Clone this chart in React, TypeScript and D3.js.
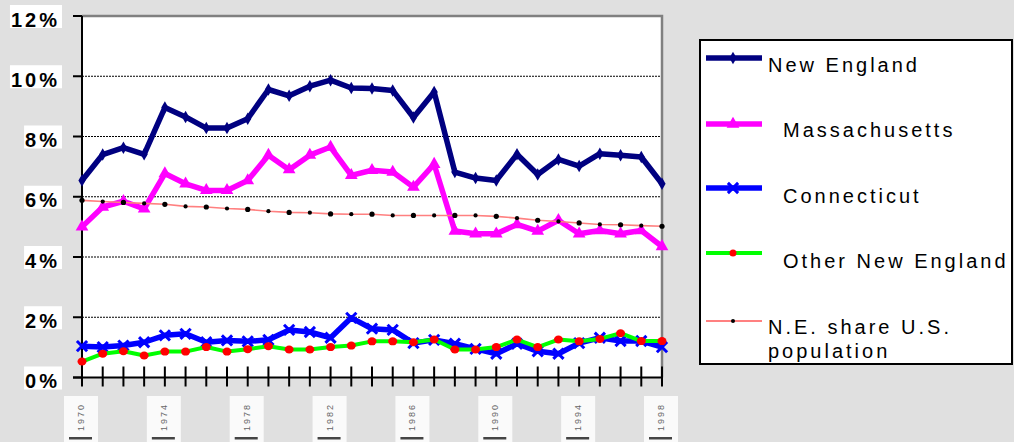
import React, { useEffect, useRef } from "react";
import * as d3 from "d3";

// categories (x axis tick labels are unreadable in the source, years assumed)
const years = [
	"1970", "1971", "1972", "1973", "1974", "1975", "1976", "1977", "1978", "1979",
	"1980", "1981", "1982", "1983", "1984", "1985", "1986", "1987", "1988", "1989",
	"1990", "1991", "1992", "1993", "1994", "1995", "1996", "1997", "1998",
];
const labelYears = ["1970", "1974", "1978", "1982", "1986", "1990", "1994", "1998"];
const yTicks = [0, 2, 4, 6, 8, 10, 12];

// series values, percent
const newEngland = [
	6.54, 7.4, 7.63, 7.41, 8.96, 8.65, 8.28, 8.28, 8.59, 9.56, 9.35, 9.67, 9.87, 9.61, 9.59,
	9.53, 8.63, 9.48, 6.82, 6.62, 6.54, 7.41, 6.74, 7.24, 7.02, 7.43, 7.38, 7.32, 6.43,
];
const massachusetts = [
	5.0, 5.66, 5.85, 5.6, 6.77, 6.43, 6.21, 6.21, 6.54, 7.38, 6.9, 7.38, 7.65, 6.71, 6.88,
	6.82, 6.32, 7.08, 4.86, 4.77, 4.77, 5.08, 4.86, 5.22, 4.77, 4.88, 4.77, 4.88, 4.35,
];
const connecticut = [
	1.04, 1.01, 1.06, 1.17, 1.4, 1.45, 1.17, 1.23, 1.2, 1.25, 1.58, 1.51, 1.32, 1.98, 1.62,
	1.58, 1.14, 1.25, 1.12, 0.95, 0.79, 1.12, 0.87, 0.79, 1.14, 1.32, 1.21, 1.21, 1.01,
];
const otherNewEngland = [
	0.53, 0.79, 0.87, 0.73, 0.86, 0.86, 1.01, 0.86, 0.94, 1.04, 0.93, 0.93, 1.01, 1.06, 1.2,
	1.2, 1.17, 1.26, 0.93, 0.93, 1.01, 1.26, 1.01, 1.26, 1.2, 1.28, 1.47, 1.21, 1.21,
];
const popShare = [
	5.88, 5.84, 5.81, 5.78, 5.75, 5.68, 5.66, 5.61, 5.58, 5.52, 5.48, 5.47, 5.43, 5.42, 5.42,
	5.38, 5.38, 5.38, 5.38, 5.38, 5.35, 5.29, 5.22, 5.18, 5.13, 5.08, 5.07, 5.04, 5.02,
];

type Series = {
	name: string[];
	values: number[];
	line: string;
	width: number;
	marker: string;
	markerColor: string;
	textX: number;
};

const series: Series[] = [
	{ name: ["New England"], values: newEngland, line: "#000080", width: 5.5, marker: "diamond", markerColor: "#000080", textX: 768 },
	{ name: ["Massachusetts"], values: massachusetts, line: "#ff00ff", width: 5.5, marker: "triangle", markerColor: "#ff00ff", textX: 783 },
	{ name: ["Connecticut"], values: connecticut, line: "#0000ff", width: 5.5, marker: "x", markerColor: "#0000ff", textX: 783 },
	{ name: ["Other New England"], values: otherNewEngland, line: "#00ff00", width: 4, marker: "circle", markerColor: "#ff0000", textX: 783 },
	{ name: ["N.E. share U.S.", "population"], values: popShare, line: "#ff8080", width: 1.6, marker: "dot", markerColor: "#000000", textX: 768 },
];

const FONT = "'Liberation Sans', Arial, sans-serif";

export default function App() {
	const svgRef = useRef<SVGSVGElement | null>(null);

	useEffect(() => {
		document.body.style.margin = "0";
		if (!svgRef.current) return;
		const width = 1014;
		const height = 442;
		const plot = { left: 82, right: 662, top: 16, bottom: 377.5 };

		const svg = d3.select(svgRef.current);
		svg.selectAll("*").remove();

		svg.append("rect").attr("width", width).attr("height", height).attr("fill", "#e0e0e0");

		const x = d3.scalePoint<string>().domain(years).range([plot.left, plot.right]);
		const y = d3.scaleLinear().domain([0, 12]).range([plot.bottom, plot.top]);

		// plot area
		svg.append("rect")
			.attr("x", plot.left)
			.attr("y", plot.top)
			.attr("width", plot.right - plot.left)
			.attr("height", plot.bottom - plot.top)
			.attr("fill", "#fff");

		// gridlines
		svg.append("g")
			.selectAll("line")
			.data(yTicks.filter((t) => t > 0 && t < 12))
			.join("line")
			.attr("x1", plot.left)
			.attr("x2", plot.right)
			.attr("y1", (d) => y(d))
			.attr("y2", (d) => y(d))
			.attr("stroke", "#000")
			.attr("stroke-width", 1)
			.attr("stroke-dasharray", "2,1");

		// gray frame top/right
		svg.append("path")
			.attr("d", `M${plot.left},${plot.top}H${plot.right}V${plot.bottom}`)
			.attr("fill", "none")
			.attr("stroke", "#808080")
			.attr("stroke-width", 2.5);

		// y axis
		const yAxis = svg.append("g");
		yAxis.append("line")
			.attr("x1", plot.left).attr("x2", plot.left)
			.attr("y1", plot.top).attr("y2", plot.bottom + 1)
			.attr("stroke", "#000").attr("stroke-width", 2);
		const yTick = yAxis.selectAll("g.tick").data(yTicks).join("g").attr("class", "tick");
		yTick.append("line")
			.attr("x1", plot.left - 9).attr("x2", plot.left)
			.attr("y1", (d) => y(d)).attr("y2", (d) => y(d))
			.attr("stroke", "#000").attr("stroke-width", 2);
		const yBg = yTick.append("rect").attr("fill", "#fff");
		const yText = yTick.append("text")
			.attr("x", 60)
			.attr("y", (d) => y(d) + 10.5)
			.attr("text-anchor", "end")
			.attr("font-family", FONT)
			.attr("font-weight", "bold")
			.attr("font-size", 20)
			.attr("letter-spacing", 3)
			.attr("fill", "#000")
			.text((d) => `${d}%`);
		yText.each(function (d, i) {
			const bb = (this as SVGTextElement).getBBox();
			d3.select(yBg.nodes()[i])
				.attr("x", bb.x - 1)
				.attr("y", y(d) - 11)
				.attr("width", 62 - (bb.x - 1))
				.attr("height", 23);
		});

		// x axis
		const xAxis = svg.append("g");
		xAxis.selectAll("line.tick")
			.data(years)
			.join("line")
			.attr("class", "tick")
			.attr("x1", (d) => x(d)!).attr("x2", (d) => x(d)!)
			.attr("y1", plot.bottom - 11).attr("y2", plot.bottom + 9)
			.attr("stroke", "#000").attr("stroke-width", 2);
		xAxis.append("line")
			.attr("x1", plot.left - 9).attr("x2", plot.right + 1)
			.attr("y1", plot.bottom).attr("y2", plot.bottom)
			.attr("stroke", "#000").attr("stroke-width", 2);

		// x labels: tiny rotated images in the source, drawn as faint boxes
		const xl = xAxis.selectAll("g.xl").data(labelYears).join("g").attr("class", "xl")
			.attr("transform", (d) => `translate(${x(d)! - 1},0)`);
		xl.append("rect").attr("x", -17).attr("y", 396).attr("width", 34).attr("height", 50).attr("fill", "#fafafa");
		xl.append("text")
			.attr("transform", "translate(3,417) rotate(-90)")
			.attr("text-anchor", "middle")
			.attr("font-family", FONT)
			.attr("font-size", 9)
			.attr("letter-spacing", 2)
			.attr("fill", "#666")
			.text((d) => d);
		xl.append("rect").attr("x", -12).attr("y", 437).attr("width", 23).attr("height", 2.5).attr("fill", "#444");

		// markers
		const symbolPath = (m: string) => {
			switch (m) {
				case "diamond":
					return d3.symbol().type(d3.symbolDiamond).size(45)();
				case "triangle":
					return d3.symbol().type(d3.symbolTriangle).size(70)();
				case "x":
					return d3.symbol().type(d3.symbolX).size(70)();
				default:
					return "";
			}
		};

		const line = d3.line<number>()
			.x((_, i) => x(years[i])!)
			.y((d) => y(d));

		series.forEach((s) => {
			const g = svg.append("g");
			g.append("path")
				.datum(s.values)
				.attr("d", line)
				.attr("fill", "none")
				.attr("stroke", s.line)
				.attr("stroke-width", s.width)
				.attr("stroke-linejoin", "round");
			const pts = g.selectAll("g.pt").data(s.values).join("g").attr("class", "pt")
				.attr("transform", (d, i) => `translate(${x(years[i])},${y(d)})`);
			if (s.marker === "circle") {
				pts.append("ellipse").attr("rx", 4.5).attr("ry", 4).attr("fill", s.markerColor);
			} else if (s.marker === "dot") {
				pts.append("circle").attr("r", (_, i) => (i % 2 === 0 ? 2.6 : 2.1)).attr("fill", s.markerColor);
			} else if (s.marker === "x") {
				pts.append("path").attr("d", symbolPath("x")).attr("fill", "none")
					.attr("stroke", s.markerColor).attr("stroke-width", 3);
			} else {
				pts.append("path").attr("d", symbolPath(s.marker)).attr("fill", s.markerColor);
			}
		});

		// legend
		const legend = svg.append("g");
		legend.append("rect")
			.attr("x", 700).attr("y", 40).attr("width", 312).attr("height", 324)
			.attr("fill", "#fff").attr("stroke", "#000").attr("stroke-width", 2);
		const rowY = [58, 124, 188, 253, 321];
		const baseY = [72, 137, 203, 268, 334];
		series.forEach((s, i) => {
			const ly = rowY[i];
			legend.append("line")
				.attr("x1", 706).attr("x2", 762).attr("y1", ly).attr("y2", ly)
				.attr("stroke", s.line).attr("stroke-width", Math.max(2, s.width));
			const mg = legend.append("g").attr("transform", `translate(733,${ly})`);
			if (s.marker === "circle") mg.append("circle").attr("r", 3.5).attr("fill", s.markerColor);
			else if (s.marker === "dot") mg.append("circle").attr("r", 2).attr("fill", s.markerColor);
			else if (s.marker === "x") mg.append("path").attr("d", symbolPath("x")).attr("fill", "none").attr("stroke", s.markerColor).attr("stroke-width", 3);
			else mg.append("path").attr("d", symbolPath(s.marker)).attr("fill", s.markerColor);
			s.name.forEach((t, j) => {
				legend.append("text")
					.attr("x", s.textX)
					.attr("y", baseY[i] + j * 24)
					.attr("font-family", FONT)
					.attr("font-size", 20)
					.attr("letter-spacing", 3)
					.attr("fill", "#000")
					.text(t);
			});
		});
	}, []);

	return <svg ref={svgRef} width={1014} height={442} style={{ display: "block" }} />;
}
